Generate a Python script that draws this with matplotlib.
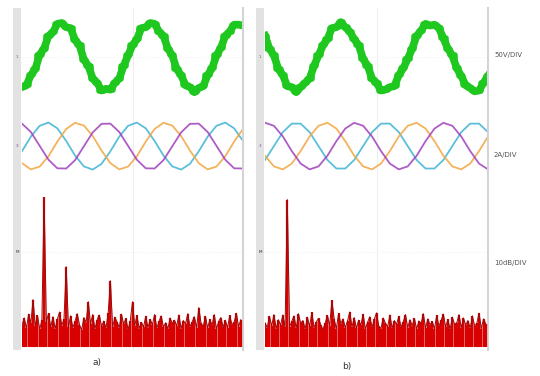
import numpy as np
import matplotlib
matplotlib.use("Agg")
import matplotlib.pyplot as plt
from matplotlib.patches import Rectangle

# --- data ---
# time axis (ms), 10 div x 5 ms
t_v = np.arange(0, 51, 1)
t_i = np.arange(0, 51, 2)

# output voltage (V), 50 V/div
v_a = [-35, -33, -21, -14, 3, 10, 25, 29, 39, 40, 35, 34, 20, 14, -3, -10, -25, -30, -39, -37,
       -38, -30, -25, -10, 2, 14, 21, 34, 35, 40, 39, 30, 25, 10, 2, -14, -21, -33, -35, -41,
       -36, -34, -21, -13, 2, 11, 25, 30, 38, 38, 37]
v_b = [25, 10, 2, -14, -21, -34, -35, -41, -35, -30, -25, -10, 2, 14, 21, 34, 35, 41, 35, 30,
       21, 14, -2, -10, -25, -30, -39, -38, -35, -34, -21, -13, -2, 10, 25, 31, 39, 37, 38, 34,
       22, 10, 2, -13, -22, -33, -36, -40, -39, -30, -22]

# phase currents (A), 2 A/div
ic_a = [-0.24, 0.44, 0.95, 1.10, 0.83, 0.24, -0.44, -0.95, -1.10, -0.83,
        -0.24, 0.44, 0.95, 1.10, 0.83, 0.24, -0.44, -0.95, -1.10, -0.83,
        -0.24, 0.44, 0.95, 1.10, 0.83, 0.24]
io_a = [-0.80, -1.09, -0.96, -0.47, 0.21, 0.80, 1.09, 0.96, 0.47, -0.21,
        -0.80, -1.09, -0.96, -0.47, 0.21, 0.80, 1.09, 0.96, 0.47, -0.21,
        -0.80, -1.09, -0.96, -0.47, 0.21, 0.80]
ip_a = [1.05, 0.66, 0.01, -0.64, -1.04, -1.05, -0.66, -0.01, 0.64, 1.04,
        1.05, 0.66, 0.01, -0.64, -1.04, -1.05, -0.66, -0.01, 0.64, 1.04,
        1.05, 0.66, 0.01, -0.64, -1.04, -1.05]
ic_b = [-0.65, 0.0, 0.65, 1.05, 1.05, 0.65, 0.0, -0.65, -1.05, -1.05,
        -0.65, 0.0, 0.65, 1.05, 1.05, 0.65, 0.0, -0.65, -1.05, -1.05,
        -0.65, 0.0, 0.65, 1.05, 1.05, 0.65]
io_b = [-0.45, -0.95, -1.09, -0.82, -0.23, 0.45, 0.95, 1.09, 0.82, 0.23,
        -0.45, -0.95, -1.09, -0.82, -0.23, 0.45, 0.95, 1.09, 0.82, 0.23,
        -0.45, -0.95, -1.09, -0.82, -0.23, 0.45]
ip_b = [1.09, 0.95, 0.45, -0.23, -0.82, -1.09, -0.95, -0.45, 0.23, 0.82,
        1.09, 0.95, 0.45, -0.23, -0.82, -1.09, -0.95, -0.45, 0.23, 0.82,
        1.09, 0.95, 0.45, -0.23, -0.82, -1.09]

# FFT of the voltage (dB above floor), 10 dB/div, 5 Hz bins
freq = np.arange(0, 500, 5)
fft_a = [5.0, 6.7, 4.3, 7.6, 5.5, 11.0, 4.8, 7.3, 4.0, 6.2,
         34.9, 5.7, 7.8, 4.5, 7.0, 4.2, 6.4, 8.1, 4.9, 6.5,
         18.7, 4.6, 7.2, 4.4, 5.9, 7.7, 5.1, 3.9, 6.8, 5.6,
         10.5, 5.3, 7.5, 4.1, 6.3, 7.4, 4.7, 6.0, 4.3, 7.9,
         15.4, 4.5, 6.9, 5.8, 4.4, 7.6, 5.2, 6.6, 4.0, 6.1,
         10.5, 4.9, 7.3, 4.2, 5.7, 4.6, 7.1, 4.4, 6.4, 5.1,
         7.5, 4.3, 5.9, 7.2, 4.5, 5.6, 4.1, 6.7, 5.4, 6.2,
         4.8, 7.4, 4.2, 6.1, 5.3, 7.7, 4.6, 5.8, 7.0, 4.4,
         9.1, 5.5, 4.7, 7.1, 4.3, 6.4, 5.0, 7.5, 4.1, 5.9,
         6.8, 4.5, 6.2, 4.4, 7.3, 5.1, 5.7, 7.8, 4.6, 6.3]
fft_b = [5.6, 4.4, 7.1, 4.8, 7.5, 4.2, 6.3, 5.0, 7.4, 4.5,
         34.4, 4.6, 5.9, 7.2, 4.3, 7.7, 5.4, 6.1, 4.1, 6.9,
         4.7, 8.0, 4.4, 5.8, 6.6, 5.1, 4.0, 5.5, 7.3, 4.9,
         10.8, 6.4, 4.2, 7.8, 5.3, 6.5, 4.4, 6.0, 8.1, 4.6,
         6.8, 4.3, 6.2, 5.0, 7.6, 4.1, 5.7, 7.0, 4.5, 6.4,
         7.9, 4.8, 4.2, 6.7, 5.5, 4.6, 7.4, 4.3, 6.1, 5.2,
         7.1, 4.5, 5.8, 7.5, 4.4, 6.3, 4.9, 6.6, 4.1, 6.0,
         5.4, 7.7, 4.3, 6.5, 5.1, 5.9, 4.2, 7.3, 4.7, 6.2,
         7.6, 4.5, 6.4, 4.0, 6.9, 5.2, 5.6, 7.5, 4.4, 6.7,
         5.0, 6.1, 4.3, 7.2, 4.8, 5.5, 7.8, 4.2, 6.5, 5.3]

scales = ["50V/DIV", "2A/DIV", "10dB/DIV"]
panel_labels = ["a)", "b)"]

# channel offsets on screen (div) and colours
off_v, off_i, off_f = 2.85, 0.77, -3.92
green = "#1ec81e"
c_cyan, c_orange, c_purple = "#3fb4d4", "#f2a640", "#a040bc"
red, dark_red = "#d80000", "#9a0a0a"

W, H = 540, 376
fig = plt.figure(figsize=(W / 100, H / 100), dpi=100)


def scope(left, width, v, ic, io, ip, fft):
    ax = fig.add_axes([left / W, 26 / H, width / W, 342 / H])
    ax.set_xlim(0, 50)
    ax.set_ylim(-4, 4)
    for s in ["top", "bottom", "left"]:
        ax.spines[s].set_visible(False)
    ax.spines["right"].set_color("#d4d4d4")
    ax.spines["right"].set_linewidth(1.5)
    ax.set_xticks([])
    ax.set_yticks([])
    # faint graticule
    ax.axvline(25, color="#eeeeee", lw=0.8, zorder=0)
    for y in [off_v, off_i, -1.7]:
        ax.axhline(y, color="#f2f2f2", lw=0.8, ls=":", zorder=0)
    # gray strip left of the screen
    ax.add_patch(Rectangle((-9 / width, 0), 8 / width, 1, transform=ax.transAxes,
                           color="#e2e2e2", clip_on=False, lw=0))

    vv = np.array(v) / 50 + off_v
    ax.plot(t_v, vv, color=green, lw=5.5)
    ax.plot(t_v, vv, color=green, lw=4.0, drawstyle="steps-mid")
    ax.plot(t_i, np.array(ic) / 2 + off_i, color=c_cyan, lw=1.3, alpha=0.85)
    ax.plot(t_i, np.array(io) / 2 + off_i, color=c_orange, lw=1.3, alpha=0.85)
    ax.plot(t_i, np.array(ip) / 2 + off_i, color=c_purple, lw=1.3, alpha=0.85)

    axf = ax.twiny()
    axf.set_xlim(0, 500)
    axf.axis("off")
    top = np.array(fft) / 10 + off_f
    axf.fill_between(freq, off_f, top, color=red, lw=0, alpha=0.5)
    axf.vlines(freq, off_f, top, color=red, lw=1.6)
    axf.plot(freq, top, color=dark_red, lw=0.7)

    # channel markers
    ax.text(-5 / width, off_v, "1", transform=ax.get_yaxis_transform(),
            fontsize=3, color="#666666", ha="center", va="center")
    ax.text(-5 / width, off_i, "3", transform=ax.get_yaxis_transform(),
            fontsize=3, color="#7050a0", ha="center", va="center")
    ax.text(-5 / width, -1.7, "M", transform=ax.get_yaxis_transform(),
            fontsize=3, color="#333333", ha="center", va="center")
    return ax


scope(22, 221, v_a, ic_a, io_a, ip_a, fft_a)
scope(265, 223, v_b, ic_b, io_b, ip_b, fft_b)

for label, y in zip(scales, [55, 155, 263]):
    fig.text(494 / W, 1 - y / H, label, fontsize=5, color="#555555", va="center")

fig.text(97 / W, 1 - 363 / H, panel_labels[0], fontsize=6.5, color="#333333", ha="center", va="center")
fig.text(347 / W, 1 - 366 / H, panel_labels[1], fontsize=6.5, color="#333333", ha="center", va="center")

fig.savefig("out.png", dpi=100)
